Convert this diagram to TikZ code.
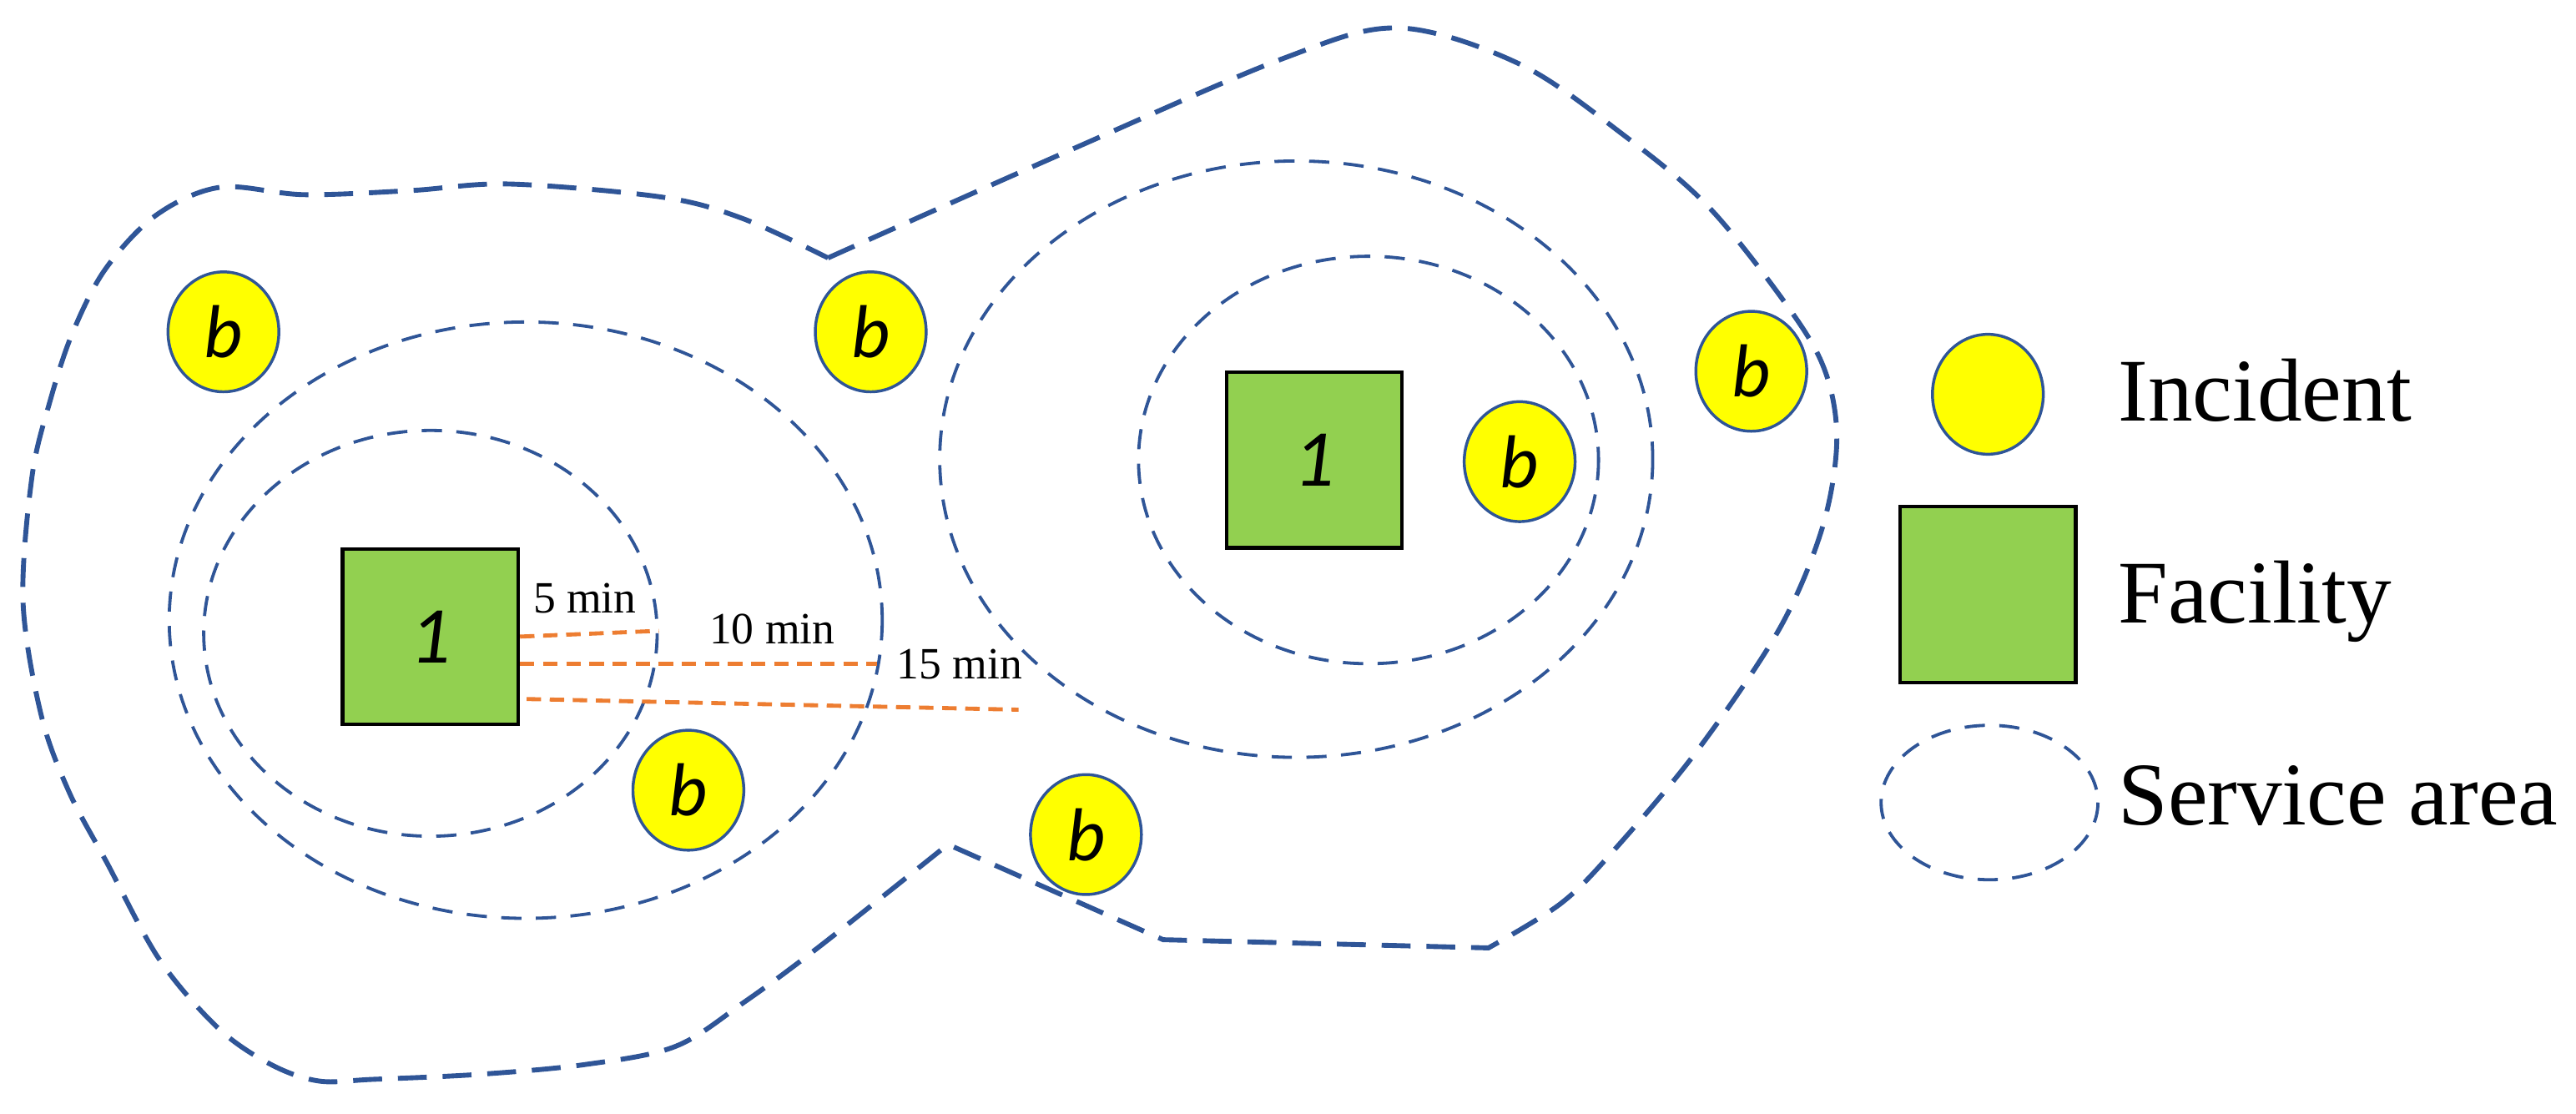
\documentclass[tikz,border=0pt]{standalone}
\usepackage{fontspec}
\setmainfont{Liberation Serif}
\newfontfamily\markfont{Carlito}
\usepackage{tikz}
\usetikzlibrary{shapes.geometric, calc}

\definecolor{areablue}{RGB}{47,85,151}
\definecolor{incyellow}{RGB}{255,255,0}
\definecolor{facgreen}{RGB}{146,208,80}
\definecolor{reachorange}{RGB}{237,125,49}

\begin{document}
\begin{tikzpicture}[
    x=0.02cm, y=-0.02cm,
    incident/.style={ellipse, draw=areablue, line width=1pt, fill=incyellow, minimum width=1.35cm, minimum height=1.46cm, inner sep=0pt, font={\markfont\itshape\fontsize{26}{30}\selectfont}},
    facility/.style={rectangle, draw=black, line width=1.2pt, fill=facgreen, minimum size=2.14cm, inner sep=0pt, font={\markfont\itshape\fontsize{28}{32}\selectfont}},
    area/.style={draw=areablue, line width=1.1pt, dash pattern=on 7pt off 5pt},
    outer/.style={draw=areablue, line width=1.7pt, dash pattern=on 10pt off 5.5pt},
    reach/.style={draw=reachorange, line width=1.4pt, dash pattern=on 5pt off 3pt},
    minlabel/.style={anchor=base, inner sep=0pt, font={\fontsize{15.5}{17}\selectfont}},
    legend/.style={anchor=base west, inner sep=0pt, font={\fontsize{31}{36}\selectfont}}
]
    \useasboundingbox (0,0) rectangle (1568,678);

    % Service areas around facility 1 (left)
    \draw[area] (262,385.5) ellipse [x radius=138, y radius=123.5];
    \draw[area] (320,377.5) ellipse [x radius=217, y radius=181.5];
    % Service areas around facility 1 (right)
    \draw[area] (833,280) ellipse [x radius=140, y radius=124];
    \draw[area] (789,279.5) ellipse [x radius=217, y radius=181.5];

    % 15 min boundary
    \draw[outer] plot[smooth, tension=0.55] coordinates {(504,157) (650,92) (780,36) (851,17) (925,39) (988,82) (1041,127) (1092,192) (1112,229) (1118,270) (1109,322) (1083,383) (1033,457) (982,518) (950,550) (906,577)}
        -- (708,572)
        -- plot[smooth, tension=0.55] coordinates {(577,514) (499,576) (453,610) (411,637) (356,648) (291,654) (227,657) (194,658) (165,648) (133,626) (97,584) (65,525) (42,482) (25,435) (14,366) (19.5,290) (30.5,244) (44,203) (64,164) (95,131) (134,114) (185,118.5) (250,116) (310,112) (403,120) (452,133) (504,157)};

    % Facilities
    \node[facility] (F1) at (262,387.5) {1};
    \node[facility] (F2) at (800,280) {1};

    % Incidents
    \foreach \name/\px/\py in {b1/136/202, b2/530/202, b3/1066/226, b4/925/281, b5/419/481, b6/661/508} {
        \node[incident] (\name) at (\px,\py) {b};
    }

    % Travel times
    \coordinate (e5) at (401,384);
    \coordinate (e10) at (534,404);
    \coordinate (e15) at (620,432);
    \draw[reach] (F1.east) -- (e5);
    \draw[reach] (F1.east |- e10) -- (e10);
    \draw[reach] ($(F1.east)+(4,38)$) -- (e15);
    \node[minlabel] (m5) at (356,373) {5 min};
    \node[minlabel] (m10) at (470,392) {10 min};
    \node[minlabel] (m15) at (584,413) {15 min};

    % Legend
    \node[incident] (Linc) at (1210,240) {};
    \node[facility] (Lfac) at (1210,362) {};
    \draw[area] (1211,488.5) ellipse [x radius=66, y radius=47];
    \node[legend] (tinc) at (1289,256.5) {Incident};
    \node[legend] (tfac) at (1289,379) {Facility};
    \node[legend] (tarea) at (1289,502) {Service area};
\end{tikzpicture}
\end{document}
